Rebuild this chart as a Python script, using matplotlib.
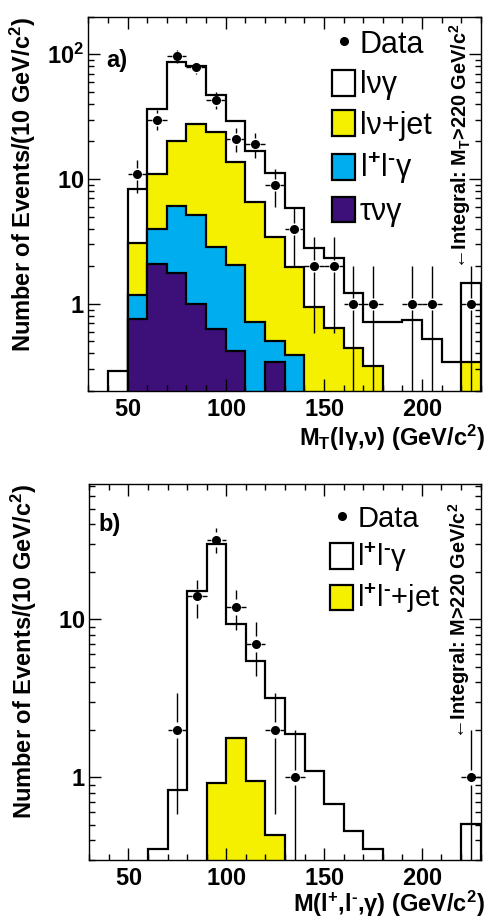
import numpy as np
import matplotlib
matplotlib.use('Agg')
import matplotlib as mpl
import matplotlib.pyplot as plt
from matplotlib.patches import Patch
from matplotlib.lines import Line2D
from matplotlib.ticker import MultipleLocator, LogLocator, FuncFormatter, NullFormatter

mpl.rc('font', family='Liberation Sans', size=17, weight='bold')
mpl.rc('axes', linewidth=1.0, labelweight='bold')
mpl.rc('mathtext', fontset='custom', rm='Liberation Sans', it='Liberation Sans:italic',
       bf='Liberation Sans:bold')

# bin edges, 10 GeV/c^2 wide, last bin = integral above 220
edges = np.arange(30, 240, 10)

# panel a) : M_T(l gamma, nu), stacked backgrounds (bottom -> top)
a_taunug = [0, 0, 0.75, 2.08, 1.76, 1.00, 0.63, 0.42, 0, 0.34, 0, 0, 0, 0, 0, 0, 0, 0, 0, 0]
a_llg = [0, 0, 0.42, 1.88, 4.32, 4.15, 2.21, 1.61, 0.71, 0.16, 0.39, 0, 0, 0, 0, 0, 0, 0, 0, 0]
a_lnujet = [0, 0, 1.89, 7.00, 14.0, 22.3, 21.1, 11.7, 5.80, 2.92, 1.60, 0.95, 0.64, 0.44, 0.32,
            0, 0, 0, 0, 0.34]
a_lnug = [0, 0.29, 5.21, 25.3, 66.7, 53.2, 23.6, 15.4, 10.2, 7.70, 3.83, 1.84, 1.68, 0.78, 0.40,
          0.71, 0.74, 0.52, 0.34, 1.12]
a_data_x = [55, 65, 75, 85, 95, 105, 115, 125, 135, 145, 155, 165, 175, 195, 205, 225]
a_data_n = [11, 30, 96, 79, 43, 21, 19, 9, 4, 2, 2, 1, 1, 1, 1, 1]

# panel b) : M(l+, l-, gamma)
b_lljet = [0, 0, 0, 0, 0, 0, 0.92, 1.77, 0.95, 0.43, 0, 0, 0, 0, 0, 0, 0, 0, 0, 0]
b_llg = [0, 0, 0, 0.35, 0.83, 15.2, 29.2, 7.53, 4.51, 2.76, 1.89, 1.09, 0.68, 0.46, 0.35,
         0, 0, 0, 0, 0.51]
b_data_x = [75, 85, 95, 105, 115, 125, 135, 225]
b_data_n = [2, 14, 32, 12, 7, 2, 1, 1]

YELLOW = '#F5F000'
CYAN = '#00AEEF'
PURPLE = '#3D0F78'
FLOOR = 1e-3
LLG = r'l$^{+}$l$^{\text{-}}$'


def draw_stack(ax, layers, colors):
    cum = np.cumsum(np.array(layers, float), axis=0)
    # draw from the top of the stack down so lower layers sit in front
    for level, col in zip(cum[::-1], colors[::-1]):
        vals = np.where(level > 0.005, level, FLOOR)
        ax.stairs(vals, edges, baseline=FLOOR, fill=True, facecolor=col,
                  edgecolor='black', linewidth=1.6)


def draw_data(ax, x, n, ylo):
    x = np.asarray(x, float)
    n = np.asarray(n, float)
    err = np.sqrt(n)
    hi = n + err
    lo = np.where(n - err > 0, n - err, ylo)
    gap = 1.12
    ax.vlines(x, n * gap, hi, color='black', lw=1.0)
    ax.vlines(x, lo, n / gap, color='black', lw=1.0)
    ax.hlines(n, x - 5, x - 2.6, color='black', lw=1.0)
    ax.hlines(n, x + 2.6, x + 5, color='black', lw=1.0)
    ax.plot(x, n, 'o', color='black', ms=5.5, zorder=5)


def style_axes(ax, ymin, ymax):
    ax.set_yscale('log')
    ax.set_xlim(30, 230)
    ax.set_ylim(ymin, ymax)
    ax.xaxis.set_major_locator(MultipleLocator(50))
    ax.xaxis.set_minor_locator(MultipleLocator(10))
    ax.xaxis.set_major_formatter(FuncFormatter(lambda v, p: r'$\mathbf{%d}$' % v))
    ax.yaxis.set_major_locator(LogLocator(base=10))
    ax.yaxis.set_minor_locator(LogLocator(base=10, subs=np.arange(2, 10)))
    ax.yaxis.set_minor_formatter(NullFormatter())
    ax.yaxis.set_major_formatter(FuncFormatter(
        lambda v, p: r'$\mathbf{10^{2}}$' if v > 50 else r'$\mathbf{%d}$' % v))
    ax.tick_params(which='both', direction='in', top=True, right=True, width=1.0)
    ax.tick_params(which='major', length=8.6, labelsize=17)
    ax.tick_params(axis='x', which='major', pad=5)
    ax.tick_params(axis='y', which='major', pad=3)
    ax.tick_params(which='minor', length=4.3)


fig = plt.figure(figsize=(4.96, 9.24), dpi=100)
ax1 = fig.add_axes([0.178, 0.5768, 0.7917, 0.4051])
ax2 = fig.add_axes([0.180, 0.0693, 0.789, 0.4069])

# ---- a) ----
draw_stack(ax1, [a_taunug, a_llg, a_lnujet, a_lnug], [PURPLE, CYAN, YELLOW, 'white'])
draw_data(ax1, a_data_x, a_data_n, 0.1)
style_axes(ax1, 0.2, 200)
ax1.set_xlabel(r'M$_{\mathbf{T}}$(lγ,ν) (GeV/c$^{\mathbf{2}}$)', loc='right', fontsize=17)
ax1.xaxis.set_label_coords(1.01, -0.085)
ax1.set_ylabel(r'Number of Events/(10 GeV/c$^{\mathbf{2}}$)', loc='top', fontsize=17)
ax1.yaxis.set_label_coords(-0.128, 1.0)
ax1.text(0.047, 0.882, 'a)', transform=ax1.transAxes, fontsize=17, va='center')
ax1.text(0.947, 0.325, r'←Integral: M$_{\mathbf{T}}$>220 GeV/c$^{\mathbf{2}}$',
         transform=ax1.transAxes, rotation=90, ha='center', va='bottom', fontsize=14.3)
h1 = [Line2D([], [], marker='o', ls='none', color='black', ms=5.5),
      Patch(facecolor='white', edgecolor='black', lw=1.6),
      Patch(facecolor=YELLOW, edgecolor='black', lw=1.6),
      Patch(facecolor=CYAN, edgecolor='black', lw=1.6),
      Patch(facecolor=PURPLE, edgecolor='black', lw=1.6)]
ax1.legend(h1, ['Data', 'lνγ', 'lν+jet', LLG + 'γ', 'τνγ'],
           loc='upper left', bbox_to_anchor=(0.621, 0.966), frameon=False,
           borderpad=0, borderaxespad=0, handlelength=0.75, handleheight=0.92,
           handletextpad=0.15, labelspacing=0.33,
           prop={'family': 'Liberation Sans', 'size': 22, 'weight': 'normal'})

# ---- b) ----
draw_stack(ax2, [b_lljet, b_llg], [YELLOW, 'white'])
draw_data(ax2, b_data_x, b_data_n, 0.1)
style_axes(ax2, 0.3, 72)
ax2.set_xlabel(r'M(l$^{\mathbf{+}}$,l$^{\text{-}}$,γ) (GeV/c$^{\mathbf{2}}$)', loc='right',
               fontsize=17)
ax2.xaxis.set_label_coords(1.01, -0.078)
ax2.set_ylabel(r'Number of Events/(10 GeV/c$^{\mathbf{2}}$)', loc='top', fontsize=17)
ax2.yaxis.set_label_coords(-0.128, 1.0)
ax2.text(0.023, 0.891, 'b)', transform=ax2.transAxes, fontsize=17, va='center')
ax2.text(0.946, 0.322, r'←Integral: M>220 GeV/c$^{\mathbf{2}}$',
         transform=ax2.transAxes, rotation=90, ha='center', va='bottom', fontsize=14.3)
h2 = [Line2D([], [], marker='o', ls='none', color='black', ms=5.5),
      Patch(facecolor='white', edgecolor='black', lw=1.6),
      Patch(facecolor=YELLOW, edgecolor='black', lw=1.6)]
ax2.legend(h2, ['Data', LLG + 'γ', LLG + '+jet'],
           loc='upper left', bbox_to_anchor=(0.616, 0.946), frameon=False,
           borderpad=0, borderaxespad=0, handlelength=0.78, handleheight=0.95,
           handletextpad=0.15, labelspacing=0.27,
           prop={'family': 'Liberation Sans', 'size': 21, 'weight': 'normal'})

fig.savefig('out.png', dpi=100)
